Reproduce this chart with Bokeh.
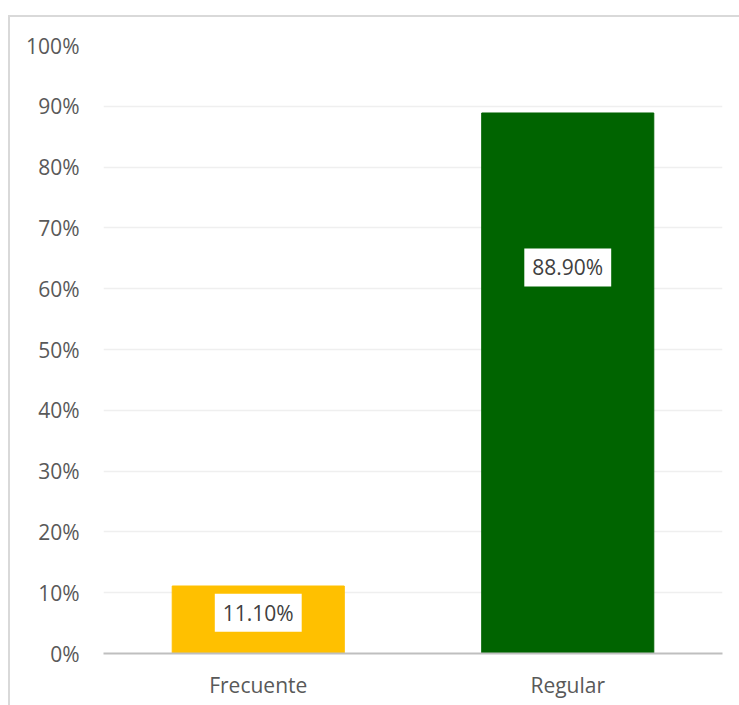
from bokeh.plotting import figure
from bokeh.models import ColumnDataSource, Label, FixedTicker, Range1d
from bokeh.embed import file_html
from bokeh.resources import INLINE

categories = ["Frecuente", "Regular"]
values = [11.1, 88.9]
labels = ["11.10%", "88.90%"]
label_pos = [6.7, 63.5]
colors = ["#FFC000", "#006400"]
ticks = [0, 10, 20, 30, 40, 50, 60, 70, 80, 90, 100]
tick_labels = {t: f"{t}%" for t in ticks}

FONT = "Open Sans"

src = ColumnDataSource(dict(cat=categories, val=values, col=colors))

p = figure(x_range=categories, y_range=Range1d(0, 100), width=731, height=690,
           output_backend="svg", toolbar_location=None,
           min_border_left=93, min_border_right=19, min_border_top=28, min_border_bottom=54)
p.styles = {"margin-left": "8px", "margin-top": "15px",
            "border-left": "2px solid #d9d9d9", "border-top": "2px solid #d9d9d9"}
p.outline_line_color = None
p.background_fill_color = "white"
p.border_fill_color = "white"

p.vbar(x="cat", top="val", bottom=0, width=0.556, color="col", source=src)

for i, (lab, pos) in enumerate(zip(labels, label_pos)):
    p.add_layout(Label(x=i + 0.5, y=pos, text=lab,
                       text_align="center", text_baseline="middle",
                       text_font=FONT, text_font_size="21px", text_color="#404040",
                       background_fill_color="white", padding=(8, 5)))

p.xgrid.grid_line_color = None
p.ygrid.grid_line_color = "#efefef"
p.ygrid.grid_line_width = 1.5
p.ygrid.ticker = FixedTicker(ticks=ticks)

p.yaxis.ticker = FixedTicker(ticks=ticks)
p.yaxis.major_label_overrides = tick_labels
p.yaxis.axis_line_color = None
p.yaxis.major_tick_line_color = None
p.yaxis.minor_tick_line_color = None
p.yaxis.major_label_text_font = FONT
p.yaxis.major_label_text_font_size = "21px"
p.yaxis.major_label_text_color = "#595959"
p.yaxis.major_label_standoff = 18

p.xaxis.axis_line_color = "#bfbfbf"
p.xaxis.axis_line_width = 2
p.xaxis.major_tick_line_color = None
p.xaxis.minor_tick_line_color = None
p.xaxis.major_label_text_font = FONT
p.xaxis.major_label_text_font_size = "21px"
p.xaxis.major_label_text_color = "#595959"
p.xaxis.major_label_standoff = 11
p.x_range.range_padding = 0

open("out.html", "w").write(file_html(p, INLINE))
